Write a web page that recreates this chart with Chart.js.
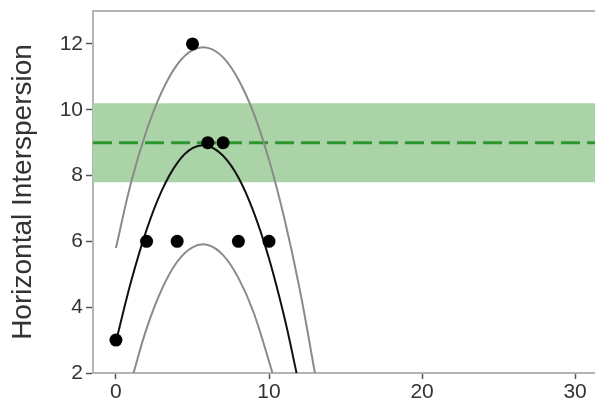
<!DOCTYPE html>
<html lang="en">
<head>
    <meta charset="UTF-8">
    <title>Horizontal Interspersion</title>
    <style>
        body {
            margin: 0;
            padding: 0;
            background-color: #fff;
        }

        #wrap {
            width: 595px;
            height: 411px;
        }
    </style>
    <script src="https://cdn.jsdelivr.net/npm/chart.js"></script>
</head>
<body>

<div id="wrap">
    <canvas id="chart" width="595" height="411"></canvas>
</div>

<script>
    // observed points
    const pointX = [0, 2, 4, 5, 6, 7, 8, 10];
    const pointY = [3, 6, 6, 12, 9, 9, 6, 6];

    // fitted curve (black) and its bounds (grey)
    const fitX = [0, 1, 2, 3, 4, 5, 6, 7, 8, 9, 10, 11, 11.8];
    const fitY = [2.95, 4.8, 6.35, 7.55, 8.38, 8.83, 8.9, 8.6, 7.94, 6.89, 5.48, 3.7, 2];
    const upperX = [0, 1, 2, 3, 4, 5, 6, 7, 8, 9, 10, 11, 12, 13];
    const upperY = [5.8, 7.81, 9.37, 10.55, 11.37, 11.81, 11.88, 11.59, 10.92, 9.89, 8.48, 6.7, 4.56, 2];
    const lowerX = [1.15, 2, 3, 4, 5, 6, 7, 8, 9, 10.23];
    const lowerY = [2, 3.35, 4.55, 5.38, 5.82, 5.89, 5.58, 4.89, 3.83, 2];

    // reference band and line
    const bandLow = 7.8;
    const bandHigh = 10.2;
    const refLine = 9;

    const xTicks = [0, 10, 20, 30];
    const yTicks = [2, 4, 6, 8, 10, 12];
    const xMin = -1.5, xMax = 31.3;
    const yMin = 2, yMax = 13;

    function zip(xs, ys) {
        return xs.map(function (x, i) { return { x: x, y: ys[i] }; });
    }

    function flat(v) {
        return [{ x: xMin, y: v }, { x: xMax, y: v }];
    }

    // top frame line
    const topLine = {
        id: 'topLine',
        afterDraw: function (chart) {
            const ctx = chart.ctx;
            const a = chart.chartArea;
            ctx.save();
            ctx.strokeStyle = '#b4b4b4';
            ctx.lineWidth = 2;
            ctx.beginPath();
            ctx.moveTo(a.left, a.top);
            ctx.lineTo(a.right, a.top);
            ctx.stroke();
            ctx.restore();
        }
    };

    const tickFont = { family: 'Liberation Sans, Arial, sans-serif', size: 21 };

    new Chart(document.getElementById('chart').getContext('2d'), {
        type: 'line',
        data: {
            datasets: [
                {
                    label: 'points',
                    data: zip(pointX, pointY),
                    showLine: false,
                    pointRadius: 6.5,
                    pointBackgroundColor: '#000',
                    pointBorderWidth: 0,
                    order: 0
                },
                {
                    label: 'fit',
                    data: zip(fitX, fitY),
                    borderColor: '#111',
                    borderWidth: 2,
                    pointRadius: 0,
                    tension: 0.4,
                    order: 1
                },
                {
                    label: 'upper',
                    data: zip(upperX, upperY),
                    borderColor: '#8a8a8a',
                    borderWidth: 2,
                    pointRadius: 0,
                    tension: 0.4,
                    order: 1
                },
                {
                    label: 'lower',
                    data: zip(lowerX, lowerY),
                    borderColor: '#8a8a8a',
                    borderWidth: 2,
                    pointRadius: 0,
                    tension: 0.4,
                    order: 1
                },
                {
                    label: 'ref',
                    data: flat(refLine),
                    borderColor: '#2e962e',
                    borderWidth: 3,
                    borderDash: [19, 7],
                    pointRadius: 0,
                    order: 2
                },
                {
                    label: 'bandHigh',
                    data: flat(bandHigh),
                    borderWidth: 0,
                    borderColor: 'rgba(0,0,0,0)',
                    backgroundColor: '#aad4a7',
                    fill: 6,
                    pointRadius: 0,
                    order: 3
                },
                {
                    label: 'bandLow',
                    data: flat(bandLow),
                    borderWidth: 0,
                    borderColor: 'rgba(0,0,0,0)',
                    pointRadius: 0,
                    order: 3
                }
            ]
        },
        options: {
            responsive: false,
            animation: false,
            events: [],
            layout: { autoPadding: false, padding: { top: 11, right: 0, left: 0, bottom: 0 } },
            plugins: {
                legend: { display: false },
                tooltip: { enabled: false }
            },
            scales: {
                x: {
                    type: 'linear',
                    min: xMin,
                    max: xMax,
                    afterBuildTicks: function (s) {
                        s.ticks = xTicks.map(function (v) { return { value: v }; });
                    },
                    afterFit: function (s) {
                        s.height = 38;
                        s.paddingLeft = 0;
                        s.paddingRight = 0;
                    },
                    ticks: { font: tickFont, color: '#333', padding: 1, maxRotation: 0 },
                    grid: {
                        drawOnChartArea: false,
                        drawTicks: true,
                        tickLength: 6,
                        tickColor: '#555',
                        tickWidth: 1.5
                    },
                    border: { color: '#b4b4b4', width: 2 }
                },
                y: {
                    min: yMin,
                    max: yMax,
                    afterBuildTicks: function (s) {
                        s.ticks = yTicks.map(function (v) { return { value: v }; });
                    },
                    afterFit: function (s) {
                        s.width = 93;
                        s.paddingTop = 0;
                        s.paddingBottom = 0;
                    },
                    ticks: { font: tickFont, color: '#333', padding: 3 },
                    grid: {
                        drawOnChartArea: false,
                        drawTicks: true,
                        tickLength: 7,
                        tickColor: '#555',
                        tickWidth: 1.5
                    },
                    border: { color: '#b4b4b4', width: 2 },
                    title: {
                        display: true,
                        text: 'Horizontal Interspersion',
                        color: '#333',
                        font: { family: 'Liberation Sans, Arial, sans-serif', size: 28 },
                        padding: { top: 6, bottom: 0 }
                    }
                }
            }
        },
        plugins: [topLine]
    });
</script>

</body>
</html>
